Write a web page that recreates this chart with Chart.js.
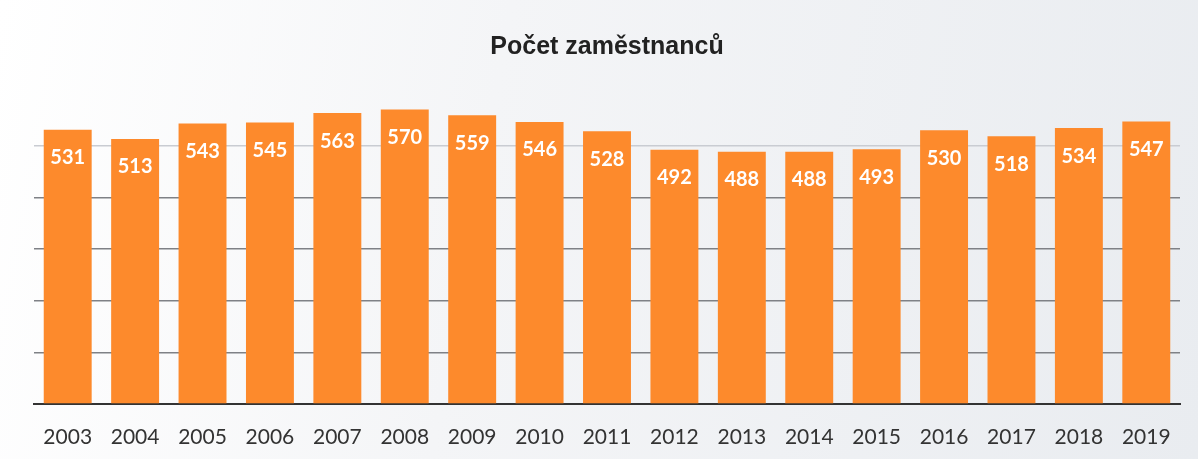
<!DOCTYPE html>
<html><head><meta charset="utf-8">
<script src="https://cdn.jsdelivr.net/npm/chart.js@4.4.1/dist/chart.umd.min.js"></script>
<style>
html,body{margin:0;padding:0;}
body{width:1198px;height:459px;overflow:hidden;background:linear-gradient(100deg,#ffffff 0%,#f4f5f7 40%,#e9ecf0 100%);}
#wrap{position:absolute;left:0;top:0;width:1198px;height:459px;}
</style></head>
<body><div id="wrap"><canvas id="c" width="1198" height="459"></canvas></div>
<script>
const years = ['2003','2004','2005','2006','2007','2008','2009','2010','2011','2012','2013','2014','2015','2016','2017','2018','2019'];
const employees = [531,513,543,545,563,570,559,546,528,492,488,488,493,530,518,534,547];
const chartTitle = 'Počet zaměstnanců';

const valueLabels = {
  id:'valueLabels',
  afterDatasetsDraw(chart){
    const ctx = chart.ctx;
    const meta = chart.getDatasetMeta(0);
    ctx.save();
    ctx.fillStyle = '#ffffff';
    ctx.font = 'bold 20px Lato, "Open Sans", sans-serif';
    ctx.textAlign = 'center';
    ctx.textBaseline = 'middle';
    meta.data.forEach((bar,i)=>{
      ctx.fillText(String(chart.data.datasets[0].data[i]), bar.x, bar.y + 28);
    });
    ctx.restore();
  }
};

new Chart(document.getElementById('c'), {
  type:'bar',
  data:{labels:years, datasets:[{data:employees, backgroundColor:'#fd8a2c', borderWidth:0, barPercentage:0.9, categoryPercentage:0.79}]},
  options:{
    responsive:false, animation:false,
    layout:{padding:{left:34,right:18,bottom:0,top:0}},
    plugins:{
      legend:{display:false}, tooltip:{enabled:false},
      title:{display:true, text:chartTitle, color:'#222', font:{family:'"Liberation Sans", Arial, sans-serif', size:25, weight:'bold'}, padding:{top:32,bottom:32}}
    },
    scales:{
      x:{grid:{display:false, drawTicks:false}, border:{display:true, color:'#333', width:2},
         afterFit(scale){ scale.height = 55; },
         ticks:{color:'#333', padding:21, font:{family:'Lato, "Open Sans", sans-serif', size:21}}},
      y:{min:0,max:600, ticks:{display:false, stepSize:100}, border:{display:false},
         grid:{color:(c)=> c.tick.value===600 ? 'rgba(0,0,0,0)' : (c.tick.value===500 ? '#c9ccd2' : '#7f8186'), lineWidth:1.5, drawTicks:false}}
    }
  },
  plugins:[valueLabels]
});
</script></body></html>
